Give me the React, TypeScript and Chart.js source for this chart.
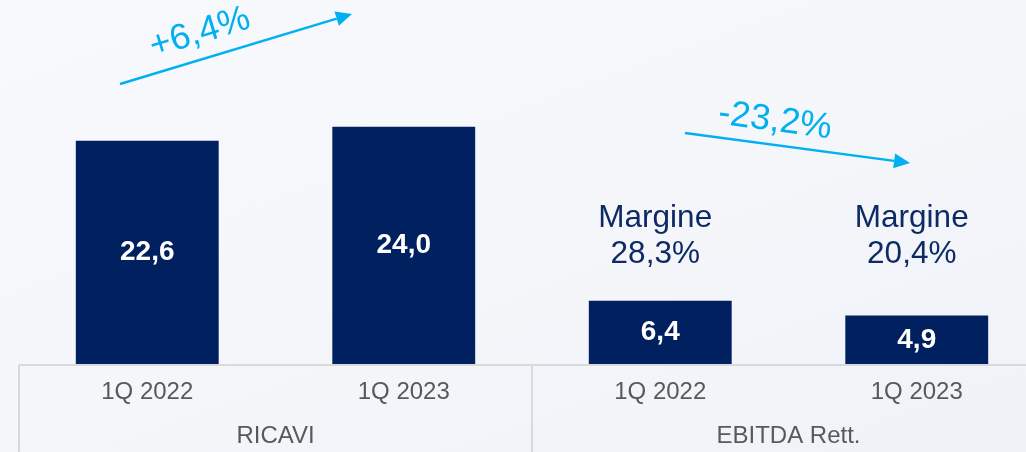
import React, { useEffect, useRef } from 'react';
import { Chart, registerables } from 'chart.js';

Chart.register(...registerables);

const categories = ['1Q 2022', '1Q 2023', '1Q 2022', '1Q 2023'];
const groups = ['RICAVI', 'EBITDA Rett.'];
const values = [22.6, 24.0, 6.4, 4.9];
const valueLabels = ['22,6', '24,0', '6,4', '4,9'];
const marginLabels = ['', '', 'Margine\n28,3%', 'Margine\n20,4%'];
const changeLabels = ['+6,4%', '-23,2%'];

const FONT = '"Liberation Sans", Arial, Helvetica, sans-serif';
const NAVY = '#002060';
const CYAN = '#00b0f0';
const GRID = '#d9d9d9';
const TICK = '#595959';

const CANVAS_W = 1070;
const CANVAS_H = 452;

const tablePlugin = {
  id: 'tableLines',
  beforeDraw(chart: any) {
    const { ctx, chartArea } = chart;
    const x = chart.scales.x;
    const mid = (x.getPixelForValue(1) + x.getPixelForValue(2)) / 2;
    const yTop = chartArea.bottom + 1;
    ctx.save();
    ctx.strokeStyle = GRID;
    ctx.lineWidth = 2;
    ctx.beginPath();
    ctx.moveTo(chartArea.left, yTop);
    ctx.lineTo(chartArea.right, yTop);
    [chartArea.left, mid, chartArea.right].forEach((px: number) => {
      ctx.moveTo(px, yTop);
      ctx.lineTo(px, chart.height);
    });
    ctx.stroke();
    ctx.restore();
  },
};

function drawArrow(ctx: any, x1: number, y1: number, x2: number, y2: number) {
  const ang = Math.atan2(y2 - y1, x2 - x1);
  const headLen = 16;
  const headHalf = 7.5;
  const bx = x2 - headLen * Math.cos(ang);
  const by = y2 - headLen * Math.sin(ang);
  ctx.beginPath();
  ctx.moveTo(x1, y1);
  ctx.lineTo(bx, by);
  ctx.stroke();
  ctx.beginPath();
  ctx.moveTo(x2, y2);
  ctx.lineTo(bx + headHalf * Math.sin(ang), by - headHalf * Math.cos(ang));
  ctx.lineTo(bx - headHalf * Math.sin(ang), by + headHalf * Math.cos(ang));
  ctx.closePath();
  ctx.fill();
}

const labelsPlugin = {
  id: 'barLabels',
  afterDatasetsDraw(chart: any) {
    const { ctx, chartArea } = chart;
    const meta = chart.getDatasetMeta(0);
    ctx.save();
    // values inside bars
    ctx.fillStyle = '#ffffff';
    ctx.font = `bold 28px ${FONT}`;
    ctx.textAlign = 'center';
    ctx.textBaseline = 'middle';
    meta.data.forEach((bar: any, i: number) => {
      const p = bar.getProps(['x', 'y', 'base'], true);
      ctx.fillText(valueLabels[i], p.x, (p.y + p.base) / 2);
    });
    // margin labels
    ctx.fillStyle = '#0d2a66';
    ctx.font = `31.5px ${FONT}`;
    ctx.textBaseline = 'alphabetic';
    meta.data.forEach((bar: any, i: number) => {
      if (!marginLabels[i]) return;
      const p = bar.getProps(['x'], true);
      const lines = marginLabels[i].split('\n');
      lines.forEach((ln: string, j: number) => {
        ctx.fillText(ln, p.x - 5, chartArea.top + 227 + j * 36);
      });
    });
    // growth arrows
    ctx.strokeStyle = CYAN;
    ctx.fillStyle = CYAN;
    ctx.lineWidth = 2.5;
    drawArrow(ctx, 120, 84, 352, 14);
    drawArrow(ctx, 685, 133, 910, 163);
    ctx.font = `36px ${FONT}`;
    ctx.textAlign = 'center';
    ctx.textBaseline = 'middle';
    const texts = [
      { t: changeLabels[0], x: 200, y: 33, a: Math.atan2(-70, 232) },
      { t: changeLabels[1], x: 775, y: 121, a: Math.atan2(30, 225) },
    ];
    texts.forEach((o) => {
      ctx.save();
      ctx.translate(o.x, o.y);
      ctx.rotate(o.a);
      ctx.fillText(o.t, 0, 0);
      ctx.restore();
    });
    ctx.restore();
  },
};

export default function App() {
  const ref = useRef<HTMLCanvasElement | null>(null);

  useEffect(() => {
    if (!ref.current) return;
    const chart = new Chart(ref.current, {
      type: 'bar',
      data: {
        labels: categories,
        datasets: [
          {
            data: values,
            backgroundColor: NAVY,
            borderWidth: 0,
            barPercentage: 0.557,
            categoryPercentage: 1,
          },
        ],
      },
      options: {
        responsive: false,
        animation: false,
        layout: { padding: { left: 19, right: CANVAS_W - 1045, top: 0, bottom: 0 } },
        plugins: { legend: { display: false }, tooltip: { enabled: false } },
        scales: {
          y: { display: false, min: 0, max: 36.84 },
          x: {
            position: 'bottom',
            weight: 0,
            grid: { display: false, drawTicks: false },
            border: { display: false },
            ticks: {
              color: TICK,
              font: { family: FONT, size: 24 },
              padding: 14,
              maxRotation: 0,
              autoSkip: false,
            },
            afterFit: (s: any) => {
              s.height = 44;
            },
          },
          x2: {
            type: 'category',
            labels: groups,
            position: 'bottom',
            offset: true,
            weight: 1,
            grid: { display: false, drawTicks: false },
            border: { display: false },
            ticks: {
              color: TICK,
              font: { family: FONT, size: 24 },
              padding: 14,
              maxRotation: 0,
              autoSkip: false,
            },
            afterFit: (s: any) => {
              s.height = 44;
            },
          },
        },
      } as any,
      plugins: [tablePlugin, labelsPlugin],
    });
    return () => chart.destroy();
  }, []);

  return (
    <div
      style={{
        position: 'fixed',
        left: 0,
        top: 0,
        width: 1026,
        height: 452,
        overflow: 'hidden',
        background: 'linear-gradient(160deg, #f8f9fd 0%, #f4f6fa 55%, #eff2f7 100%)',
      }}
    >
      <canvas ref={ref} width={CANVAS_W} height={CANVAS_H} style={{ display: 'block' }} />
    </div>
  );
}
